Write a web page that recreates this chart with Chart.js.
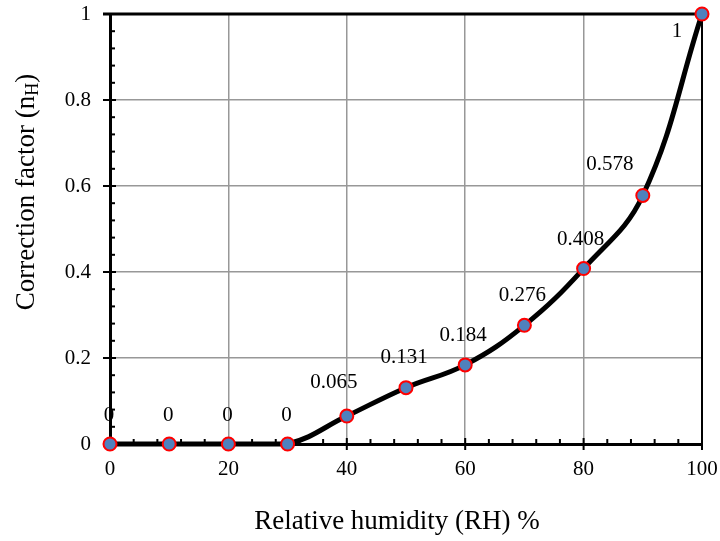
<!DOCTYPE html>
<html>
<head>
<meta charset="utf-8">
<script src="https://cdn.jsdelivr.net/npm/chart.js@4.4.1/dist/chart.umd.min.js"></script>
<style>
  html, body { margin: 0; padding: 0; background: #fff; }
  #wrap { width: 720px; height: 541px; }
</style>
</head>
<body>
<div id="wrap"><canvas id="rhChart" width="720" height="541"></canvas></div>
<script>
// data
var humidity = [0, 10, 20, 30, 40, 50, 60, 70, 80, 90, 100];
var factor = [0, 0, 0, 0, 0.065, 0.131, 0.184, 0.276, 0.408, 0.578, 1];
var xTicks = [0, 20, 40, 60, 80, 100];
var yTicks = [0, 0.2, 0.4, 0.6, 0.8, 1];

var serif = '"Liberation Serif", "Times New Roman", serif';

// where each value label sits relative to its point (px)
var labelOffsets = [[-1, -29], [-1, -29], [-1, -29], [-1, -29], [-13, -34], [-2, -30],
                    [-2, -29], [-2, -30], [-3, -29], [-33, -31], [-25, 17]];

var framePlugin = {
    id: 'frame',
    beforeDatasetsDraw: function(chart) {
        var ctx = chart.ctx, a = chart.chartArea;
        var xs = chart.scales.x, ys = chart.scales.y;
        ctx.save();
        ctx.strokeStyle = '#000';
        // top and right border
        ctx.lineWidth = 3;
        ctx.beginPath();
        ctx.moveTo(a.left - 7, a.top);
        ctx.lineTo(a.right, a.top);
        ctx.stroke();
        ctx.lineWidth = 2;
        ctx.beginPath();
        ctx.moveTo(a.right, a.top);
        ctx.lineTo(a.right, a.bottom);
        ctx.stroke();
        // minor ticks, inward
        ctx.lineWidth = 2;
        var v, p;
        for (v = 0; v <= 100; v += 4) {
            p = xs.getPixelForValue(v);
            ctx.beginPath();
            if (v % 20 === 0) {
                ctx.moveTo(p, a.bottom - 6);
                ctx.lineTo(p, a.bottom + 6);
            } else {
                ctx.moveTo(p, a.bottom);
                ctx.lineTo(p, a.bottom - 5);
            }
            ctx.stroke();
        }
        for (var i = 0; i <= 25; i++) {
            v = i * 0.04;
            p = ys.getPixelForValue(v);
            ctx.beginPath();
            if (i % 5 === 0) {
                ctx.moveTo(a.left - 7, p);
                ctx.lineTo(a.left + 6, p);
            } else {
                ctx.moveTo(a.left, p);
                ctx.lineTo(a.left + 5, p);
            }
            ctx.stroke();
        }
        ctx.restore();
    },
    afterDatasetsDraw: function(chart) {
        var ctx = chart.ctx;
        var meta = chart.getDatasetMeta(0);
        ctx.save();
        ctx.fillStyle = '#000';
        ctx.font = '21px ' + serif;
        ctx.textAlign = 'center';
        ctx.textBaseline = 'middle';
        meta.data.forEach(function(pt, i) {
            var off = labelOffsets[i];
            ctx.fillText(String(factor[i]), pt.x + off[0], pt.y + off[1]);
        });
        // x axis title
        ctx.font = '27px ' + serif;
        ctx.fillText('Relative humidity (RH) %', 397, 522);
        // y axis title with subscript
        ctx.translate(27, 192);
        ctx.rotate(-Math.PI / 2);
        ctx.textAlign = 'left';
        var main = 'Correction factor (n';
        ctx.font = '27px ' + serif;
        var w1 = ctx.measureText(main).width;
        ctx.font = '18px ' + serif;
        var w2 = ctx.measureText('H').width;
        ctx.font = '27px ' + serif;
        var w3 = ctx.measureText(')').width;
        var x0 = -(w1 + w2 + w3) / 2;
        ctx.fillText(main, x0, 0);
        ctx.font = '18px ' + serif;
        ctx.fillText('H', x0 + w1, 6);
        ctx.font = '27px ' + serif;
        ctx.fillText(')', x0 + w1 + w2, 0);
        ctx.restore();
    }
};

var ctx = document.getElementById('rhChart').getContext('2d');
var rhChart = new Chart(ctx, {
    type: 'line',
    data: {
        labels: humidity,
        datasets: [{
            data: humidity.map(function(h, i) { return { x: h, y: factor[i] }; }),
            borderColor: '#000',
            borderWidth: 5,
            tension: 0.4,
            pointRadius: 6.5,
            pointBackgroundColor: '#4f81bd',
            pointBorderColor: '#ff0000',
            pointBorderWidth: 2,
            clip: false
        }]
    },
    options: {
        responsive: false,
        animation: false,
        layout: { padding: { top: 14, right: 18, left: 0, bottom: 0 } },
        plugins: {
            legend: { display: false },
            tooltip: { enabled: false }
        },
        scales: {
            x: {
                type: 'linear',
                min: 0,
                max: 100,
                afterBuildTicks: function(scale) {
                    scale.ticks = xTicks.map(function(v) { return { value: v }; });
                },
                afterFit: function(scale) {
                    scale.height = 97;
                    scale.paddingLeft = 0;
                    scale.paddingRight = 0;
                },
                grid: { color: '#989898', lineWidth: 1.5, drawTicks: false },
                border: { color: '#000', width: 3 },
                ticks: {
                    padding: 13,
                    color: '#000',
                    font: { family: serif, size: 21 }
                }
            },
            y: {
                min: 0,
                max: 1,
                afterBuildTicks: function(scale) {
                    scale.ticks = yTicks.map(function(v) { return { value: v }; });
                },
                afterFit: function(scale) {
                    scale.width = 110;
                    scale.paddingTop = 0;
                    scale.paddingBottom = 0;
                },
                grid: { color: '#989898', lineWidth: 1.5, drawTicks: false },
                border: { color: '#000', width: 3 },
                ticks: {
                    padding: 19,
                    color: '#000',
                    font: { family: serif, size: 21 },
                    callback: function(v) { return String(Math.round(v * 10) / 10); }
                }
            }
        }
    },
    plugins: [framePlugin]
});
</script>
</body>
</html>
